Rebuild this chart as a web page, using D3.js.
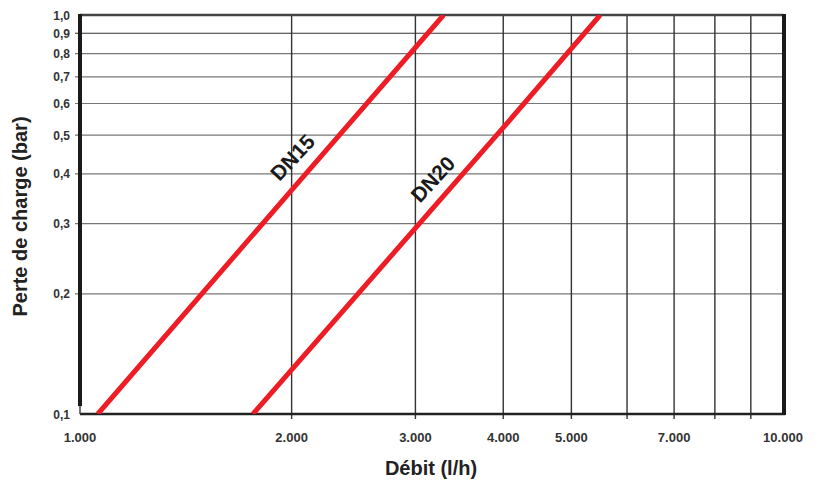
<!DOCTYPE html>
<html><head><meta charset="utf-8">
<script src="https://cdn.jsdelivr.net/npm/d3@7"></script>
<style>body{margin:0;background:#fff}svg{display:block}</style>
</head><body>
<svg id="c" width="819" height="481"></svg>
<script>
const xTicks = [1000,2000,3000,4000,5000,6000,7000,8000,9000,10000];
const xTickLabels = ["1.000","2.000","3.000","4.000","5.000","","7.000","","","10.000"];
const yTicks = [0.1,0.2,0.3,0.4,0.5,0.6,0.7,0.8,0.9,1.0];
const yTickLabels = ["0,1","0,2","0,3","0,4","0,5","0,6","0,7","0,8","0,9","1,0"];
const seriesNames = ["DN15","DN20"];
const dn15Flow = [1060, 2000, 3290];
const dn15Loss = [0.1, 0.364, 1.0];
const dn20Flow = [1762, 4000, 5495];
const dn20Loss = [0.1, 0.522, 1.0];
// label anchor positions (data units)
const labelFlow = [2005, 3175];
const labelLoss = [0.440, 0.388];

const svg = d3.select("#c");
const L = 80, R = 783, T = 15, B = 414;
const x = d3.scaleLog().domain([1000,10000]).range([L,R]);
const y = d3.scaleLog().domain([0.1,1.0]).range([B,T]);
const font = "Arial, 'Liberation Sans', Helvetica, sans-serif";

// grid
const g = svg.append("g");
g.selectAll("line.hg").data(yTicks.slice(1,-1)).join("line")
  .attr("x1", L-5).attr("x2", R).attr("y1", d=>y(d)).attr("y2", d=>y(d))
  .attr("stroke", (d,i)=> i===7 ? "#333" : "#777").attr("stroke-width", 1.2);
g.selectAll("line.vg").data(xTicks.slice(1,-1)).join("line")
  .attr("x1", d=>x(d)).attr("x2", d=>x(d)).attr("y1", T).attr("y2", B+5)
  .attr("stroke", "#333").attr("stroke-width", 1.4);

// borders
svg.append("line").attr("x1",L).attr("x2",R).attr("y1",T).attr("y2",T).attr("stroke","#444").attr("stroke-width",2.5);
svg.append("line").attr("x1",L).attr("x2",R+2).attr("y1",B).attr("y2",B).attr("stroke","#222").attr("stroke-width",2.5);
svg.append("line").attr("x1",L).attr("x2",L).attr("y1",T-1).attr("y2",B-8).attr("stroke","#1a1a1a").attr("stroke-width",4);
svg.append("line").attr("x1",L).attr("x2",L).attr("y1",B-8).attr("y2",B).attr("stroke","#444").attr("stroke-width",1.5);
svg.append("line").attr("x1",R+1).attr("x2",R+1).attr("y1",T-1).attr("y2",B+1).attr("stroke","#1a1a1a").attr("stroke-width",4);

// series
const line = d3.line().x(d=>x(d[0])).y(d=>y(d[1]));
svg.append("clipPath").attr("id","pc").append("rect").attr("x",L).attr("y",T).attr("width",R-L).attr("height",B-T);
[[dn15Flow,dn15Loss],[dn20Flow,dn20Loss]].forEach(([f,p])=>{
  svg.append("path").datum(f.map((v,i)=>[v,p[i]])).attr("d",line)
    .attr("fill","none").attr("stroke","#ee1c25").attr("stroke-width",5).attr("clip-path","url(#pc)");
});

// series labels
seriesNames.forEach((t,i)=>{
  svg.append("text").attr("transform",`translate(${x(labelFlow[i])},${y(labelLoss[i])}) rotate(-47)`)
    .attr("text-anchor","middle").attr("dominant-baseline","central").attr("font-family",font).attr("font-weight","bold")
    .attr("font-size",21).attr("fill","#1a1a1a").text(t);
});

// tick labels
svg.selectAll("text.yt").data(yTicks).join("text")
  .attr("x", 70).attr("y", d=>y(d)+4.5).attr("text-anchor","end")
  .attr("font-family",font).attr("font-size",12).attr("font-weight","bold").attr("fill","#333")
  .text((d,i)=>yTickLabels[i]);
svg.selectAll("text.xt").data(xTicks).join("text")
  .attr("x", d=>x(d)).attr("y", 442).attr("text-anchor","middle")
  .attr("font-family",font).attr("font-size",13).attr("font-weight","bold").attr("fill","#333")
  .text((d,i)=>xTickLabels[i]);

// axis titles
svg.append("text").attr("x",431).attr("y",475).attr("text-anchor","middle")
  .attr("font-family",font).attr("font-size",20).attr("font-weight","bold").attr("fill","#222").text("Débit (l/h)");
svg.append("text").attr("transform",`translate(27,${(T+B)/2+2}) rotate(-90)`).attr("text-anchor","middle")
  .attr("font-family",font).attr("font-size",20).attr("font-weight","bold").attr("fill","#222").text("Perte de charge (bar)");
</script>
</body></html>
